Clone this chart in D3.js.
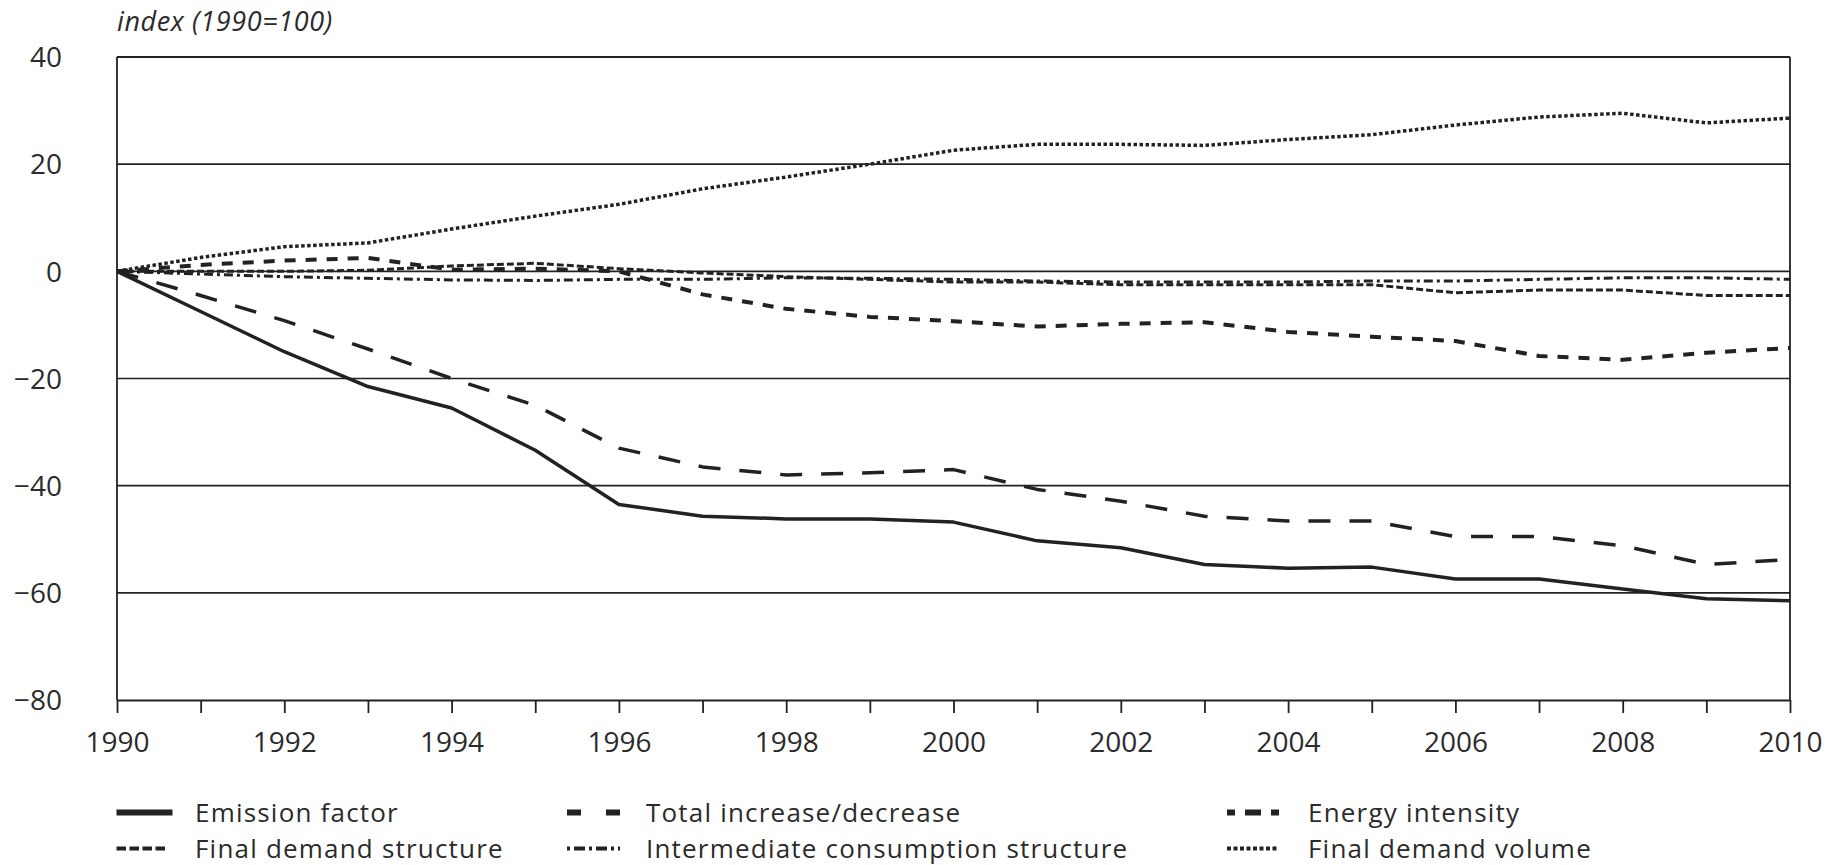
<!DOCTYPE html>
<html><head><meta charset="utf-8">
<script src="https://cdn.jsdelivr.net/npm/d3@7"></script>
<style>
html,body{margin:0;padding:0;background:#fff;}
svg{display:block;}
text{font-family:"Open Sans","Noto Sans",sans-serif;fill:#2b2b2b;}
</style></head><body>
<svg id="c" width="1845" height="865"></svg>
<script>
const years = d3.range(1990, 2011);
const emissionFactor = [0,-7.5,-15,-21.5,-25.5,-33.4,-43.5,-45.7,-46.2,-46.2,-46.8,-50.3,-51.6,-54.7,-55.4,-55.2,-57.4,-57.4,-59.3,-61.1,-61.5];
const totalChange    = [0,-4.5,-9.2,-14.5,-20,-25,-33,-36.5,-38,-37.6,-37,-40.7,-42.9,-45.7,-46.6,-46.6,-49.5,-49.5,-51.2,-54.7,-53.8];
const energyIntensity = [0,1.2,2,2.5,0.3,0.5,0,-4.3,-7,-8.5,-9.3,-10.3,-9.8,-9.5,-11.3,-12.2,-13,-15.8,-16.5,-15.2,-14.3];
const finalDemandStructure = [0,0,0,0.2,1,1.5,0.5,-0.3,-1,-1.5,-2,-2,-2.5,-2.5,-2.5,-2.5,-4,-3.5,-3.5,-4.5,-4.5];
const intermediateStructure = [0,-0.5,-1,-1.3,-1.6,-1.7,-1.5,-1.5,-1.2,-1.3,-1.5,-1.8,-2,-2,-2,-1.8,-1.8,-1.5,-1.2,-1.2,-1.5];
const finalDemandVolume = [0,2.6,4.6,5.3,7.9,10.3,12.5,15.4,17.6,20,22.6,23.7,23.7,23.5,24.6,25.5,27.3,28.8,29.5,27.7,28.6];
const yTicks = [40,20,0,-20,-40,-60,-80];
const xTickLabels = [1990,1992,1994,1996,1998,2000,2002,2004,2006,2008,2010];
const axisTitle = "index (1990=100)";

const series = [
  {name:"Emission factor", values:emissionFactor, dash:null, w:3.5, lw:6, llen:56},
  {name:"Total increase/decrease", values:totalChange, dash:"22,19", w:3.5, lw:6, ldash:"14,25,14", llen:53},
  {name:"Energy intensity", values:energyIntensity, dash:"11,10", w:4, lw:6, ldash:"8,10,16,10,8", llen:52},
  {name:"Final demand structure", values:finalDemandStructure, dash:"7,3", w:3, lw:4, ldash:"9.5,3.5", llen:52},
  {name:"Intermediate consumption structure", values:intermediateStructure, dash:"3,4,9,4", w:3, lw:4, ldash:"3,4,11,4", llen:53},
  {name:"Final demand volume", values:finalDemandVolume, dash:"3.5,2.5", w:3.5, lw:4, ldash:"4,2.5", llen:52}
];

const svg = d3.select("#c");
const L=117, R=1790, T=57, B=700;
const x = d3.scaleLinear().domain([1990,2010]).range([L,R]);
const y = d3.scaleLinear().domain([-80,40]).range([B,T]);
const ink = "#222";
const FS = 28;
const LFS = 26;

// gridlines
svg.append("g").selectAll("line").data(yTicks.filter(v=>v>-80))
  .join("line").attr("x1",L).attr("x2",R).attr("y1",d=>y(d)).attr("y2",d=>y(d))
  .attr("stroke",ink).attr("stroke-width",d=>d===40?1.8:1.6);
// side borders
svg.append("line").attr("x1",L).attr("x2",L).attr("y1",T).attr("y2",B).attr("stroke",ink).attr("stroke-width",1.8);
svg.append("line").attr("x1",R).attr("x2",R).attr("y1",T).attr("y2",B).attr("stroke",ink).attr("stroke-width",1.8);

// x axis
const xAxis = d3.axisBottom(x).tickValues(years).tickSize(13).tickSizeOuter(0)
  .tickFormat(d=> xTickLabels.includes(d) ? String(d) : "");
const gx = svg.append("g").attr("transform",`translate(0,${B})`).call(xAxis);
gx.select(".domain").attr("stroke",ink).attr("stroke-width",1.8);
gx.selectAll(".tick line").attr("stroke",ink).attr("stroke-width",1.8);
gx.selectAll(".tick text").attr("font-size",FS).attr("y",52).attr("dy",0)
  .style("font-family",'"Open Sans","Noto Sans",sans-serif').attr("fill","#2b2b2b");

// y axis labels
const yAxis = d3.axisLeft(y).tickValues(yTicks).tickSize(0)
  .tickFormat(d=> d<0 ? "\u2212"+Math.abs(d) : String(d));
const gy = svg.append("g").attr("transform",`translate(${L},0)`).call(yAxis);
gy.select(".domain").remove();
gy.selectAll(".tick text").attr("font-size",FS).attr("x",-55).attr("dy","0.35em")
  .style("font-family",'"Open Sans","Noto Sans",sans-serif').attr("fill","#2b2b2b");

// title
svg.append("text").attr("x",L).attr("y",31).attr("font-size",27).attr("font-style","italic")
  .attr("letter-spacing",0.6).text(axisTitle);

// lines
const line = d3.line().x((d,i)=>x(years[i])).y(d=>y(d));
svg.append("g").selectAll("path").data(series.slice().reverse()).join("path")
  .attr("d",d=>line(d.values)).attr("fill","none").attr("stroke",ink)
  .attr("stroke-width",d=>d.w).attr("stroke-dasharray",d=>d.dash)
  .attr("stroke-linejoin","round");

// legend
const legPos = [
  {sx:116.5, tx:195, by:821.5},
  {sx:567, tx:646, by:821.5},
  {sx:1227, tx:1308, by:821.5},
  {sx:116.5, tx:195, by:857.5},
  {sx:567, tx:646, by:857.5},
  {sx:1227, tx:1308, by:857.5}
];
const lg = svg.append("g");
series.forEach((s,i)=>{
  const p = legPos[i];
  lg.append("line").attr("x1",p.sx).attr("x2",p.sx+s.llen).attr("y1",p.by-9).attr("y2",p.by-9)
    .attr("stroke",ink).attr("stroke-width",s.lw).attr("stroke-dasharray",s.ldash||null);
  lg.append("text").attr("x",p.tx).attr("y",p.by).attr("font-size",LFS).attr("letter-spacing",1.2).text(s.name);
});
</script>
</body></html>
